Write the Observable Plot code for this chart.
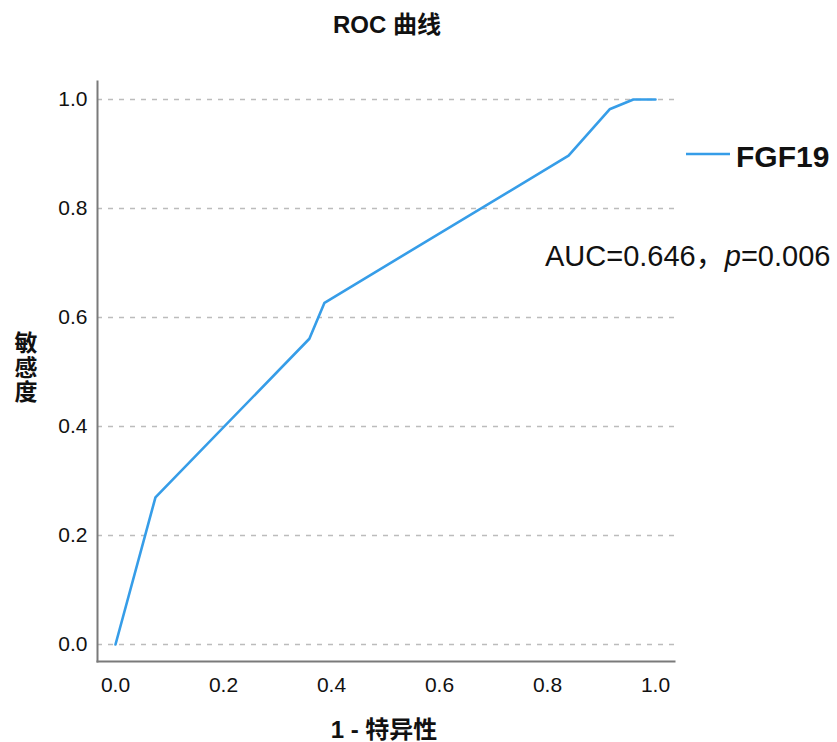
<!DOCTYPE html>
<html>
<head>
<meta charset="utf-8">
<script src="https://cdn.jsdelivr.net/npm/d3@7"></script>
<script src="https://cdn.jsdelivr.net/npm/@observablehq/plot@0.6"></script>
<style>
  html, body { margin: 0; padding: 0; background: #fff; }
  #wrap { position: relative; width: 837px; height: 742px; }
  #wrap svg { position: absolute; left: 0; top: 0; }
</style>
</head>
<body>
<div id="wrap"></div>
<script>
// ---- data ----
const fpr = [0, 0.074, 0.359, 0.387, 0.839, 0.915, 0.959, 1.0];   // 1 - 特异性
const tpr = [0, 0.270, 0.561, 0.627, 0.897, 0.982, 1.0, 1.0];     // 敏感度
const tickValues = [0, 0.2, 0.4, 0.6, 0.8, 1.0];
const title = "ROC 曲线";
const xLabel = "1 - 特异性";
const yLabelChars = ["敏", "感", "度"];
const seriesName = "FGF19";
const aucText = ["AUC=0.646，", "p", "=0.006"];

const data = fpr.map((x, i) => ({x, y: tpr[i]}));

const W = 837, H = 742;
const mL = 97, mR = 163, mT = 81, mB = 81;
const latin = "'Liberation Sans', Arial, 'Noto Sans CJK SC', sans-serif";
const cjk = "'Liberation Sans', Arial, 'Noto Sans CJK SC', sans-serif";
const lineColor = "#369de8";

const chart = Plot.plot({
  width: W,
  height: H,
  marginLeft: mL,
  marginRight: mR,
  marginTop: mT,
  marginBottom: mB,
  style: {fontFamily: latin, fontSize: "21px", color: "#111", background: "transparent"},
  x: {domain: [-18 / 540, 559 / 540]},
  y: {domain: [-17 / 545, 563 / 545]},
  marks: [
    Plot.gridY(tickValues, {stroke: "#bcbcbc", strokeOpacity: 1, strokeWidth: 1.6, strokeDasharray: "5,6"}),
    Plot.axisY(tickValues, {tickSize: 0, tickPadding: 10, tickFormat: d3.format(".1f"), label: null, fontSize: 21, fill: "#111"}),
    Plot.axisX(tickValues, {tickSize: 0, tickPadding: 16, tickFormat: d3.format(".1f"), label: null, fontSize: 21, fill: "#111"}),
    Plot.frame({anchor: "left", stroke: "#7a7a7a", strokeWidth: 2}),
    Plot.frame({anchor: "bottom", stroke: "#7a7a7a", strokeWidth: 2}),
    Plot.line(data, {x: "x", y: "y", stroke: lineColor, strokeWidth: 2.6})
  ]
});

const wrap = document.getElementById("wrap");
wrap.appendChild(chart);

// overlay for title, axis titles, legend and annotation
const ov = d3.select(wrap).append("svg")
  .attr("width", W).attr("height", H)
  .style("pointer-events", "none");

ov.append("text").attr("x", 387).attr("y", 33).attr("text-anchor", "middle")
  .attr("font-family", cjk).attr("font-size", 24).attr("font-weight", "bold").attr("fill", "#111")
  .text(title);

ov.append("text").attr("x", 384).attr("y", 738).attr("text-anchor", "middle")
  .attr("font-family", cjk).attr("font-size", 24).attr("font-weight", "bold").attr("fill", "#111")
  .text(xLabel);

yLabelChars.forEach((c, i) => {
  ov.append("text").attr("x", 26).attr("y", 351 + i * 24.5).attr("text-anchor", "middle")
    .attr("font-family", cjk).attr("font-size", 23).attr("font-weight", "bold").attr("fill", "#111")
    .text(c);
});

ov.append("line").attr("x1", 686).attr("x2", 730).attr("y1", 154).attr("y2", 154)
  .attr("stroke", lineColor).attr("stroke-width", 2.6);
ov.append("text").attr("x", 736).attr("y", 167)
  .attr("font-family", latin).attr("font-size", 30).attr("font-weight", "bold").attr("fill", "#111")
  .text(seriesName);

const t = ov.append("text").attr("x", 545).attr("y", 266)
  .attr("font-family", latin).attr("font-size", 29).attr("fill", "#111");
t.append("tspan").text(aucText[0]);
t.append("tspan").attr("font-style", "italic").text(aucText[1]);
t.append("tspan").text(aucText[2]);
</script>
</body>
</html>
